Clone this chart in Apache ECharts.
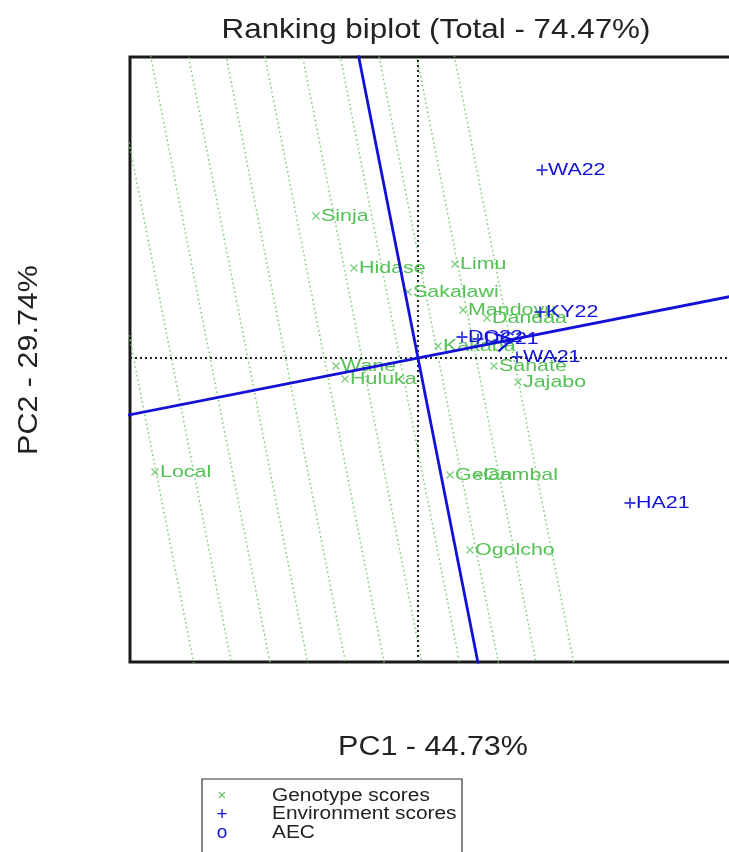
<!DOCTYPE html>
<html><head><meta charset="utf-8">
<script src="https://cdn.jsdelivr.net/npm/echarts@6/dist/echarts.min.js"></script>
<style>html,body{margin:0;padding:0;background:#fff}#c{width:729px;height:852px}</style>
</head><body><div id="c"></div>
<script>
// ---- data ----
const genotypeNames = ['Sinja','Hidase','Limu','Sakalawi','Mandoyu','Dandaa','Kakaba','Sanate','Jajabo','Wane','Huluka','Local','Gelan','Gambal','Ogolcho'];
const genotypePC1   = [-1.02, -0.64, 0.37, -0.10, 0.45, 0.69, 0.20, 0.76, 1.00, -0.82, -0.73, -2.63, 0.32, 0.60, 0.52];
const genotypePC2   = [ 1.42,  0.90, 0.94,  0.66, 0.48, 0.40, 0.12, -0.08, -0.24, -0.08, -0.21, -1.14, -1.17, -1.17, -1.92];
const envNames = ['WA22','KY22','DC22','DC21','WA21','HA21'];
const envPC1   = [1.24, 1.22, 0.44, 0.60, 0.99, 2.12];
const envPC2   = [1.88, 0.46, 0.21, 0.19, 0.01, -1.45];
const aecArrowEnd = [0.94, 0.185];
const rankLineOffsets = [-2.79, -2.42, -2.04, -1.67, -1.30, -0.92, -0.55, -0.18, 0.20, 0.57, 0.94];
const xRange = [-2.88, 3.17];
const yRange = [-3.04, 3.01];
const titleText = 'Ranking biplot (Total - 74.47%)';
const xAxisTitle = 'PC1 - 44.73%';
const yAxisTitle = 'PC2 - 29.74%';
const legendLabels = ['Genotype scores', 'Environment scores', 'AEC'];
const legendSymbols = ['×', '+', 'o'];

// ---- styling ----
const GREEN = '#55c155';
const GREEN_LINE = '#72cc72';
const BLUE = '#1212d6';
const FONT = '"Liberation Sans", Arial, sans-serif';
const STRETCH = 1.26;

const chart = echarts.init(document.getElementById('c'), null, {renderer: 'canvas'});

const m = aecArrowEnd[1] / aecArrowEnd[0];
const norm = Math.sqrt(1 + m * m);
const BIG = 20;

function labelSeries(names, xs, ys, color, dx, z) {
  return {
    type: 'custom', z: z, silent: true, clip: false,
    data: names.map((n, i) => [xs[i], ys[i]]),
    renderItem: (params, api) => {
      const p = api.coord([api.value(0), api.value(1)]);
      return {type: 'text', x: p[0] + dx, y: p[1], scaleX: STRETCH,
        style: {text: names[params.dataIndex], fill: color, font: '17px ' + FONT, textAlign: 'left', textVerticalAlign: 'middle'}};
    }
  };
}

const series = [];
rankLineOffsets.forEach(t => {
  const px = t / norm, py = t * m / norm;
  series.push({
    type: 'line', silent: true, symbol: 'none', clip: true, z: 1,
    lineStyle: {color: GREEN_LINE, width: 1.5, type: [1.5, 3]},
    data: [[px + m * BIG, py - BIG], [px - m * BIG, py + BIG]]
  });
});
series.push({type: 'line', silent: true, symbol: 'none', clip: true, z: 2,
  lineStyle: {color: '#222', width: 2, type: [2, 3]},
  data: [[xRange[0], 0], [xRange[1], 0]]});
series.push({type: 'line', silent: true, symbol: 'none', clip: true, z: 2,
  lineStyle: {color: '#222', width: 2, type: [2, 3]},
  data: [[0, yRange[0]], [0, yRange[1]]]});
series.push({
  type: 'scatter', z: 3, silent: true,
  symbol: 'path://M0,0L10,10M10,0L0,10', symbolSize: 7,
  itemStyle: {color: 'rgba(0,0,0,0)', borderColor: GREEN, borderWidth: 1.2},
  data: genotypeNames.map((n, i) => [genotypePC1[i], genotypePC2[i]])
});
series.push(labelSeries(genotypeNames, genotypePC1, genotypePC2, GREEN, 5, 3));
series.push({type: 'line', silent: true, symbol: 'none', clip: true, z: 4,
  lineStyle: {color: BLUE, width: 2.8},
  data: [[-BIG, -BIG * m], [BIG, BIG * m]]});
series.push({type: 'line', silent: true, symbol: 'none', clip: true, z: 4,
  lineStyle: {color: BLUE, width: 2.8},
  data: [[m * BIG, -BIG], [-m * BIG, BIG]]});
(function () {
  const ang = Math.atan2(aecArrowEnd[1], aecArrowEnd[0]);
  const L = 0.18, a = Math.PI / 6;
  const tip = aecArrowEnd;
  const h1 = [tip[0] - L * Math.cos(ang - a), tip[1] - L * Math.sin(ang - a)];
  const h2 = [tip[0] - L * Math.cos(ang + a), tip[1] - L * Math.sin(ang + a)];
  series.push({type: 'line', silent: true, symbol: 'none', z: 5,
    lineStyle: {color: BLUE, width: 2.2}, data: [h1, tip, h2]});
})();
series.push({
  type: 'scatter', z: 6, silent: true,
  symbol: 'path://M5,0L5,10M0,5L10,5', symbolSize: 11,
  itemStyle: {color: 'rgba(0,0,0,0)', borderColor: BLUE, borderWidth: 1.8},
  data: envNames.map((n, i) => [envPC1[i], envPC2[i]])
});
series.push(labelSeries(envNames, envPC1, envPC2, BLUE, 6, 6));

const legendY0 = 796, legendDy = 18.3;
const graphics = [
  {type: 'text', x: 436, y: 30, scaleX: 1.12, style: {text: titleText, font: '28px ' + FONT, fill: '#222', textAlign: 'center', textVerticalAlign: 'middle'}},
  {type: 'text', x: 433, y: 748, scaleX: 1.13, style: {text: xAxisTitle, font: '27px ' + FONT, fill: '#222', textAlign: 'center', textVerticalAlign: 'middle'}},
  {type: 'text', x: 30, y: 360, rotation: Math.PI / 2, scaleX: 1.13, style: {text: yAxisTitle, font: '27px ' + FONT, fill: '#222', textAlign: 'center', textVerticalAlign: 'middle'}},
  {type: 'rect', shape: {x: 202, y: 779, width: 260, height: 90}, style: {fill: '#fff', stroke: '#333', lineWidth: 1.2}}
];
legendLabels.forEach((lab, i) => {
  const y = legendY0 + i * legendDy;
  graphics.push({type: 'text', x: 222, y: y, style: {text: legendSymbols[i], font: (i === 0 ? '15px ' : '19px ') + FONT, fill: i === 0 ? GREEN : BLUE, textAlign: 'center', textVerticalAlign: 'middle'}});
  graphics.push({type: 'text', x: 272, y: y, scaleX: 1.16, style: {text: lab, font: '18px ' + FONT, fill: '#222', textAlign: 'left', textVerticalAlign: 'middle'}});
});

chart.setOption({
  animation: false,
  backgroundColor: '#fff',
  grid: {left: 130, top: 57, width: 605, height: 605, outerBoundsMode: 'none', containLabel: false,
    show: true, borderColor: '#1a1a1a', borderWidth: 3, backgroundColor: 'rgba(0,0,0,0)'},
  xAxis: {type: 'value', min: xRange[0], max: xRange[1], axisLine: {show: false}, axisTick: {show: false}, axisLabel: {show: false}, splitLine: {show: false}},
  yAxis: {type: 'value', min: yRange[0], max: yRange[1], axisLine: {show: false}, axisTick: {show: false}, axisLabel: {show: false}, splitLine: {show: false}},
  graphic: graphics,
  series: series
});
</script></body></html>
